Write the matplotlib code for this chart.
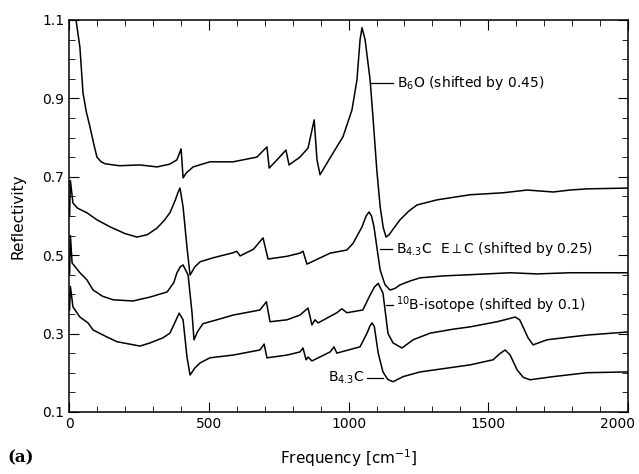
import numpy as np
import matplotlib
matplotlib.use("Agg")
import matplotlib.pyplot as plt
from matplotlib.ticker import MultipleLocator

# B6O, shifted by 0.45
b6o_x = [12, 25, 39, 50, 62, 75, 88, 100, 115, 129, 180, 254, 315, 360, 386, 401, 408,
         420, 444, 504, 587, 672, 708, 716, 744, 776, 787, 826, 855, 877, 887, 898, 923,
         945, 980, 1012, 1030, 1041, 1048, 1059, 1077, 1088, 1101, 1113, 1124, 1134,
         1145, 1159, 1184, 1215, 1245, 1317, 1435, 1553, 1639, 1732, 1792, 1853, 2000]
b6o_y = [1.16, 1.10, 1.03, 0.914, 0.865, 0.827, 0.785, 0.75, 0.738, 0.733, 0.728, 0.730,
         0.725, 0.732, 0.743, 0.771, 0.697, 0.710, 0.725, 0.738, 0.738, 0.750, 0.776,
         0.722, 0.743, 0.768, 0.730, 0.750, 0.773, 0.845, 0.743, 0.705, 0.735, 0.761,
         0.802, 0.870, 0.947, 1.049, 1.080, 1.050, 0.947, 0.845, 0.717, 0.623, 0.570,
         0.546, 0.552, 0.566, 0.590, 0.612, 0.628, 0.641, 0.654, 0.659, 0.666, 0.661,
         0.666, 0.669, 0.671]

# B4.3C E perp c, shifted by 0.25
perp_x = [2, 5, 14, 30, 64, 100, 147, 200, 243, 280, 315, 340, 361, 380, 390, 397, 408,
          422, 433, 450, 469, 515, 587, 600, 612, 660, 694, 712, 780, 826, 837, 851, 934,
          994, 1016, 1048, 1063, 1073, 1082, 1091, 1101, 1113, 1130, 1148, 1166, 1184,
          1220, 1256, 1340, 1435, 1578, 1674, 1792, 2000]
perp_y = [0.60, 0.69, 0.633, 0.620, 0.608, 0.590, 0.572, 0.555, 0.546, 0.552, 0.569,
          0.588, 0.608, 0.640, 0.660, 0.671, 0.623, 0.52, 0.449, 0.470, 0.483, 0.493,
          0.506, 0.510, 0.498, 0.515, 0.544, 0.490, 0.497, 0.505, 0.510, 0.477, 0.505,
          0.513, 0.530, 0.572, 0.600, 0.610, 0.600, 0.572, 0.521, 0.462, 0.425, 0.411,
          0.415, 0.424, 0.434, 0.442, 0.447, 0.450, 0.455, 0.452, 0.455, 0.455]

# 10B isotope, shifted by 0.1
iso_x = [2, 5, 11, 39, 64, 86, 120, 158, 229, 290, 351, 375, 386, 398, 408, 426, 440,
         447, 460, 479, 529, 587, 683, 706, 719, 780, 826, 855, 869, 880, 891, 958, 976,
         994, 1051, 1077, 1092, 1106, 1123, 1141, 1159, 1191, 1231, 1292, 1374, 1435,
         1531, 1575, 1596, 1612, 1624, 1642, 1660, 1710, 1792, 1853, 2000]
iso_y = [0.45, 0.55, 0.48, 0.455, 0.437, 0.411, 0.395, 0.386, 0.383, 0.393, 0.406, 0.430,
         0.455, 0.470, 0.475, 0.449, 0.353, 0.284, 0.305, 0.325, 0.335, 0.347, 0.360,
         0.381, 0.330, 0.335, 0.347, 0.365, 0.322, 0.335, 0.327, 0.353, 0.363, 0.353,
         0.360, 0.398, 0.418, 0.428, 0.403, 0.300, 0.276, 0.263, 0.284, 0.301, 0.311,
         0.317, 0.330, 0.338, 0.342, 0.335, 0.317, 0.289, 0.271, 0.284, 0.291, 0.296,
         0.304]

# B4.3C
b43c_x = [2, 5, 14, 39, 68, 86, 136, 172, 254, 290, 336, 361, 380, 394, 408, 422, 433,
          450, 469, 504, 587, 683, 698, 708, 780, 826, 837, 848, 855, 869, 934, 948, 958,
          1041, 1066, 1077, 1084, 1092, 1106, 1123, 1140, 1159, 1195, 1256, 1435, 1517,
          1540, 1560, 1578, 1603, 1625, 1649, 1732, 1853, 2000]
b43c_y = [0.36, 0.42, 0.368, 0.342, 0.327, 0.309, 0.291, 0.279, 0.268, 0.276, 0.289,
          0.301, 0.330, 0.352, 0.335, 0.240, 0.194, 0.212, 0.225, 0.238, 0.245, 0.258,
          0.273, 0.238, 0.245, 0.253, 0.263, 0.233, 0.240, 0.230, 0.253, 0.266, 0.250,
          0.266, 0.301, 0.320, 0.327, 0.318, 0.250, 0.202, 0.183, 0.177, 0.190, 0.202,
          0.220, 0.233, 0.248, 0.258, 0.245, 0.207, 0.188, 0.182, 0.190, 0.200, 0.202]

xticks = [0, 500, 1000, 1500, 2000]
yticks = [0.1, 0.3, 0.5, 0.7, 0.9, 1.1]

fig = plt.figure(figsize=(6.39, 4.74), dpi=100)
ax = fig.add_axes([0.108, 0.131, 0.875, 0.827])

for xs, ys in [(b6o_x, b6o_y), (perp_x, perp_y), (iso_x, iso_y), (b43c_x, b43c_y)]:
    ax.plot(xs, ys, color="black", lw=1.1)

ax.set_xlim(0, 2000)
ax.set_ylim(0.1, 1.1)
ax.set_xticks(xticks)
# the 2000 label is drawn separately below, pulled in to stay inside the figure
ax.set_xticklabels([str(t) for t in xticks[:-1]] + [""])
ax.xaxis.set_minor_locator(MultipleLocator(100))
ax.set_yticks(yticks)
ax.set_yticklabels([f"{t:.1f}" for t in yticks])
ax.yaxis.set_minor_locator(MultipleLocator(0.05))
ax.tick_params(which="both", direction="in", top=True, right=True, labelsize=10)
ax.tick_params(which="major", length=7)
ax.tick_params(which="minor", length=4)
for s in ax.spines.values():
    s.set_linewidth(1.1)

ax.annotate(str(xticks[-1]), xy=(xticks[-1], 0), xycoords=("data", "axes fraction"),
            xytext=(5, -3.5), textcoords="offset points", ha="right", va="top",
            fontsize=10)

# labels with leader lines
fs = 10
ax.plot([1080, 1160], [0.94, 0.94], color="black", lw=0.9)
ax.text(1175, 0.94, r"B$_6$O (shifted by 0.45)", fontsize=fs, va="center")
ax.plot([1113, 1155], [0.516, 0.516], color="black", lw=0.9)
ax.text(1170, 0.516, r"B$_{4.3}$C  E$\perp$C (shifted by 0.25)", fontsize=fs, va="center")
ax.plot([1133, 1160], [0.373, 0.373], color="black", lw=0.9)
ax.text(1170, 0.373, r"$^{10}$B-isotope (shifted by 0.1)", fontsize=fs, va="center")
ax.plot([1066, 1123], [0.187, 0.187], color="black", lw=0.9)
ax.text(1055, 0.187, r"B$_{4.3}$C", fontsize=fs, va="center", ha="right")

ax.set_xlabel(r"Frequency [cm$^{-1}$]", fontsize=11, labelpad=12)
ax.set_ylabel("Reflectivity", fontsize=11, labelpad=12)
fig.text(0.012, 0.025, "(a)", fontsize=12, fontweight="bold", family="DejaVu Serif")

fig.savefig("out.png", dpi=100)
